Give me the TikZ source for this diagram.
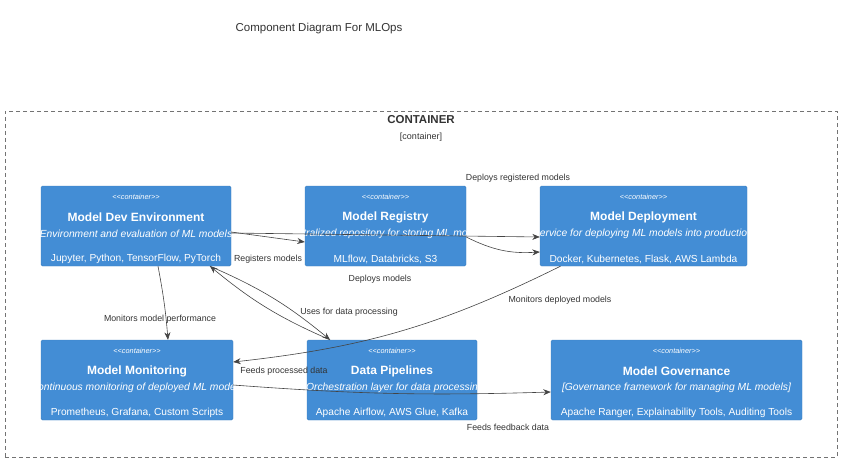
\documentclass[tikz,border=0pt]{standalone}
\usepackage{fontspec}
\setmainfont{Liberation Sans}
\newfontfamily\stereofont{Liberation Sans}
\usetikzlibrary{positioning,arrows.meta,calc}
\definecolor{cfill}{HTML}{438DD5}
\definecolor{cedge}{HTML}{3C7FC0}
\definecolor{rline}{HTML}{444444}
\definecolor{ink}{HTML}{333333}

\begin{document}
\begin{tikzpicture}[x=1pt, y=1pt,
  box/.style={draw=cedge, fill=cfill, rounded corners=1.5pt, minimum height=80pt, inner sep=0pt},
  stereo/.style={font=\stereofont\itshape\fontsize{7.3}{8}\selectfont, text=white, inner sep=0pt},
  cname/.style={font=\bfseries\fontsize{12}{14}\selectfont, text=white, inner sep=0pt},
  cdesc/.style={font=\itshape\fontsize{10.3}{12}\selectfont, text=white, inner sep=0pt},
  ctech/.style={font=\fontsize{10.2}{12}\selectfont, text=white, inner sep=0pt},
  rel/.style={draw=rline, line width=0.6pt, -{Stealth[length=7.5pt,width=6pt]}},
  lbl/.style={font=\fontsize{8.8}{10}\selectfont, text=ink, inner sep=1pt}]
\useasboundingbox (0,0) rectangle (845,475);
\node[font=\fontsize{11.5}{13}\selectfont, text=ink] (title) at (319,446) {Component Diagram For MLOps};
\node[draw=black!55, dash pattern=on 4pt off 3pt, line width=0.6pt, minimum width=832pt, minimum height=346pt, inner sep=0pt] (frame) at (421,191) {};
\node[font=\bfseries\fontsize{11.5}{13}\selectfont, text=ink] (ftitle) at (421,355) {CONTAINER};
\node[font=\fontsize{9}{10}\selectfont, text=ink] (ftype) at (421,338) {[container]};
% containers: name/x/y/width/title/description/technology
\foreach \n/\x/\y/\w/\nm/\ds/\tc in {
  dev/136/249/190/{Model Dev Environment}/{Environment and evaluation of ML models}/{Jupyter, Python, TensorFlow, PyTorch},
  reg/385.5/249/161/{Model Registry}/{tralized repository for storing ML mo}/{MLflow, Databricks, S3},
  dep/643.5/249/207/{Model Deployment}/{ervice for deploying ML models into productio}/{Docker, Kubernetes, Flask, AWS Lambda},
  mon/137/95/192/{Model Monitoring}/{ontinuous monitoring of deployed ML mode}/{Prometheus, Grafana, Custom Scripts},
  pipe/392/95/170/{Data Pipelines}/{Orchestration layer for data processin}/{Apache Airflow, AWS Glue, Kafka},
  gov/676.5/95/251/{Model Governance}/{[Governance framework for managing ML models]}/{Apache Ranger, Explainability Tools, Auditing Tools}} {
  \node[box, minimum width=\w pt] (\n) at (\x,\y) {};
  \node[stereo] (\n-st) at ([yshift=-11.5pt]\n.north) {<<container>>};
  \node[cname] (\n-nm) at ([yshift=-31.5pt]\n.north) {\nm};
  \begin{scope}
    \clip (\n.south west) rectangle (\n.north east);
    \node[cdesc] (\n-ds) at ([yshift=-48pt]\n.north) {\ds};
  \end{scope}
  \node[ctech] (\n-tc) at ([yshift=7pt]\n.south) {\tc};}
% relations
\draw[rel] ([yshift=-6pt]dev.east) -- ([yshift=-16pt]reg.west);
\draw[rel] ([yshift=-7pt]dev.east) -- ([yshift=-11pt]dep.west);
\draw[rel] ([yshift=-11pt]reg.east) to[bend right=15] ([yshift=-26pt]dep.west);
\draw[rel] ([xshift=-83pt]dep.south) to[bend left=10] ([yshift=18pt]mon.east);
\draw[rel] ([xshift=22pt]dev.south) to[bend left=3] ([xshift=31pt]mon.north);
\draw[rel] ([xshift=74pt]dev.south) to[bend left=8] ([xshift=-62pt]pipe.north);
\draw[rel] ([xshift=-62pt]pipe.north) to[bend left=8] ([xshift=74pt]dev.south);
\draw[rel] ([yshift=-5pt]mon.east) to[bend right=3] ([yshift=-12pt]gov.west);
\node[lbl] (l-reg) at (268,216) {Registers models};
\node[lbl] (l-depreg) at (518,297) {Deploys registered models};
\node[lbl] (l-dep) at (380,196) {Deploys models};
\node[lbl] (l-mondep) at (560,175) {Monitors deployed models};
\node[lbl] (l-monperf) at (160,156) {Monitors model performance};
\node[lbl] (l-uses) at (349,163) {Uses for data processing};
\node[lbl] (l-feeds) at (284,104) {Feeds processed data};
\node[lbl] (l-fb) at (508,48) {Feeds feedback data};
\end{tikzpicture}
\end{document}
